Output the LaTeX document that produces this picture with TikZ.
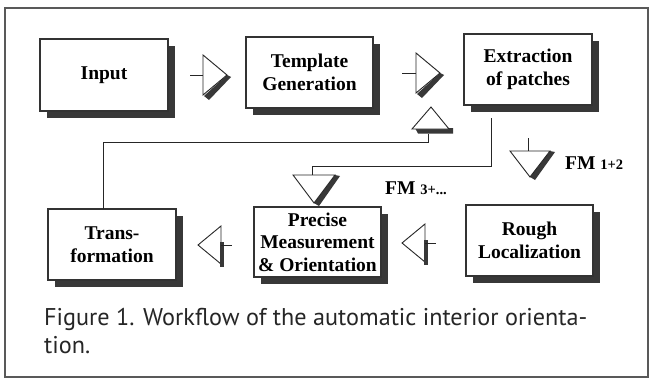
\documentclass[tikz,border=0pt]{standalone}
\usepackage{fontspec}
\setmainfont{Liberation Serif}
\newfontfamily\capfont{PT Sans}
\usetikzlibrary{shadows,calc}
\begin{document}
\begin{tikzpicture}[x=1pt,y=-1pt,
  box/.style={draw=black!80, line width=1.1pt, fill=white, minimum width=127pt, minimum height=71pt, outer sep=0pt, inner sep=2pt, align=center, font=\fontsize{19.5}{22.5}\selectfont\bfseries, drop shadow={shadow xshift=7pt, shadow yshift=-7pt, fill=black!78, opacity=1}},
  glyph/.style={draw=black!85, line width=0.9pt, fill=white, line join=miter},
  shade/.style={fill=black!78},
  wire/.style={draw=black!85, line width=0.9pt},
  fm/.style={font=\fontsize{19.5}{22}\selectfont\bfseries, inner sep=0pt}
]
\useasboundingbox (0,0) rectangle (654,380);
\fill[white] (0,0) rectangle (654,380);
\draw[black!65, line width=1.5pt] (5,8) rectangle (648,377);

% boxes
\node[box, minimum width=128pt, minimum height=72pt] (input) at (104,75) {Input};
\node[box] (templ) at (309.5,72.5) {Template\\Generation};
\node[box, minimum width=128pt] (extr) at (528,69.5) {Extraction\\of patches};
\node[box, minimum width=128pt] (trans) at (112,244.5) {Trans-\\formation};
\node[box, minimum height=70pt] (prec) at (317.5,242) {Precise\\Measurement\\\& Orientation};
\node[box] (rough) at (529.5,240.5) {Rough\\Localization};

% right arrows
\begin{scope}[shift={(203,75)}]
  \draw[wire] (-13,0) -- (0,0);
  \fill[shade] (24,0) -- (28,2) -- (6,25) -- (1,21) -- cycle;
  \draw[glyph] (0,-20) -- (24,0) -- (0,20) -- cycle;
\end{scope}
\begin{scope}[shift={(416,73)}]
  \draw[wire] (-14,0) -- (0,0);
  \fill[shade] (24,0) -- (28,2) -- (6,25) -- (1,21) -- cycle;
  \draw[glyph] (0,-20) -- (24,0) -- (0,20) -- cycle;
\end{scope}

% left arrows
\begin{scope}[shift={(221,245)}]
  \draw[glyph] (0,-19) -- (-23,0) -- (0,19) -- cycle;
  \fill[shade] (-1.5,-3) rectangle (3,22);
  \draw[wire] (0,0) -- (11,0);
\end{scope}
\begin{scope}[shift={(425,243)}]
  \draw[glyph] (0,-19) -- (-23,0) -- (0,19) -- cycle;
  \fill[shade] (-1.5,-3) rectangle (3,22);
  \draw[wire] (0,0) -- (11,0);
\end{scope}

% up triangle
\begin{scope}[shift={(431,129)}]
  \fill[shade] (-16,-1) -- (22,-1) -- (22,4.5) -- (-13,4.5) -- cycle;
  \draw[glyph] (-19,0) -- (0,-22) -- (18,0) -- cycle;
\end{scope}

% down triangle FM 3+
\begin{scope}[shift={(314,175)}]
  \fill[shade] (21,0) -- (26,1) -- (5,31) -- (0,28) -- cycle;
  \draw[glyph] (-21,0) -- (21,0) -- (0,28) -- cycle;
\end{scope}

% down triangle FM 1+2
\begin{scope}[shift={(530,151)}]
  \draw[wire] (-2,-13) -- (-2,0);
  \fill[shade] (20,0) -- (25,1) -- (5,29) -- (0,26) -- cycle;
  \draw[glyph] (-20,0) -- (20,0) -- (0,26) -- cycle;
\end{scope}

% connectors
\coordinate (upT) at (428,133.5);
\coordinate (dnT) at (312,175);
\coordinate (fbA) at (103,142);
\coordinate (exA) at (491,166);
\draw[wire] (trans.north -| fbA) -- (fbA) -| (upT);
\draw[wire] ($(extr.south -| exA)+(0,13)$) -- (exA) -| (dnT);

% labels
\node[fm, anchor=west] (fm3) at (385,188) {FM {\fontsize{14.5}{14}\selectfont 3+...}};
\node[fm, anchor=west] (fm12) at (565,163) {FM {\fontsize{14.5}{14}\selectfont 1+2}};

% caption
\node[anchor=north west, align=left, inner sep=0pt, font=\capfont\fontsize{24.2}{28}\selectfont, text=black!85] (cap) at (44,308) {Figure 1. Workflow of the automatic interior orienta-\\tion.};
\end{tikzpicture}
\end{document}
